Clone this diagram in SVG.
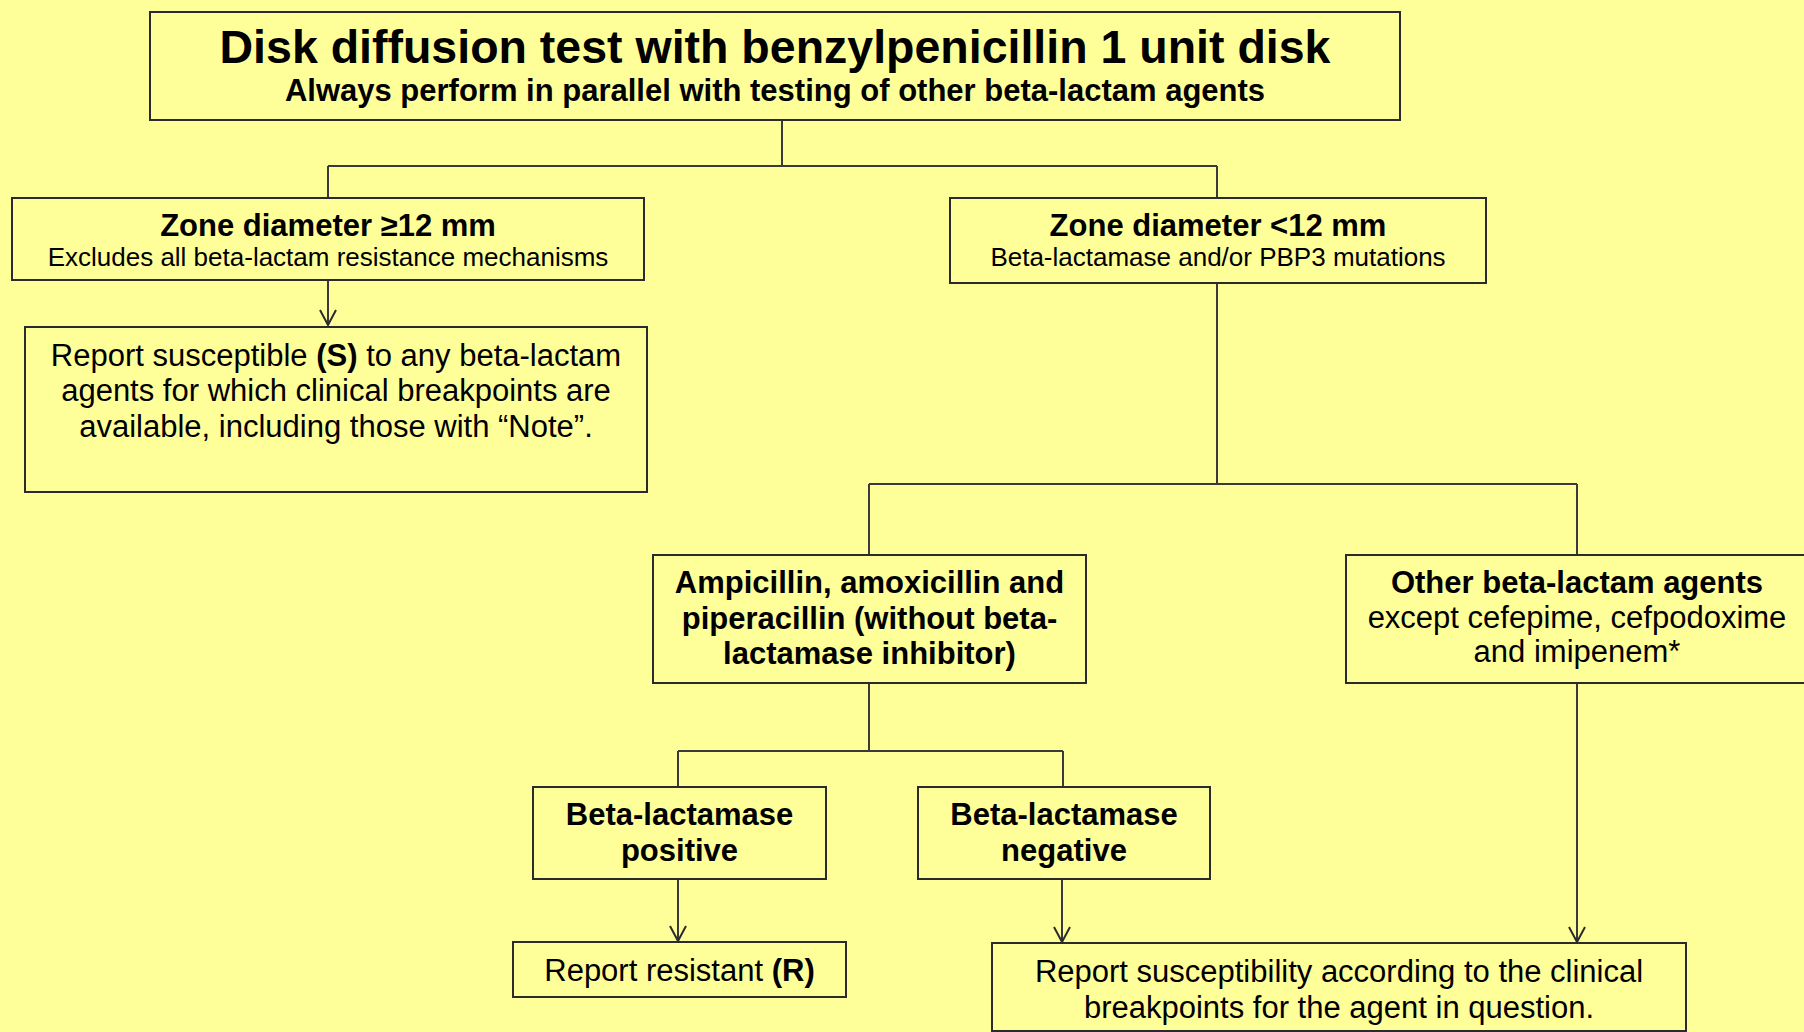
<svg xmlns="http://www.w3.org/2000/svg" width="1804" height="1032" viewBox="0 0 1804 1032">
<style>
text{font-family:"Liberation Sans",Arial,sans-serif;fill:#000;text-anchor:middle}
.box{fill:#FFFF99;stroke:#2b2b2b;stroke-width:2}
.ln{fill:none;stroke:#3a3a3a;stroke-width:2}
.b{font-weight:bold}
.t{font-size:46.5px;font-weight:bold}
.h{font-size:31px;font-weight:bold}
.s{font-size:26px}
.r{font-size:31px}
</style>
<defs>
<marker id="arr" viewBox="0 0 20 20" refX="18" refY="10" markerWidth="20" markerHeight="20" markerUnits="userSpaceOnUse" orient="auto">
<path d="M3,2 L18,10 L3,18" fill="none" stroke="#2b2b2b" stroke-width="2"/>
</marker>
</defs>
<rect width="1804" height="1032" fill="#FFFF99"/>
<g id="connectors">
<path class="ln" d="M782,120 V166 M328,166 H1217 M328,166 V198 M1217,166 V198"/>
<path class="ln" d="M328,280 V325" marker-end="url(#arr)"/>
<path class="ln" d="M1217,283 V484 M869,484 H1577 M869,484 V555 M1577,484 V555"/>
<path class="ln" d="M869,683 V751 M678,751 H1063 M678,751 V787 M1063,751 V787"/>
<path class="ln" d="M678,879 V941" marker-end="url(#arr)"/>
<path class="ln" d="M1062,879 V942" marker-end="url(#arr)"/>
<path class="ln" d="M1577,683 V942" marker-end="url(#arr)"/>
</g>
<g id="n-top">
<rect class="box" x="150" y="12" width="1250" height="108"/>
<text class="t" x="775" y="63">Disk diffusion test with benzylpenicillin 1 unit disk</text>
<text class="h" x="775" y="101">Always perform in parallel with testing of other beta-lactam agents</text>
</g>
<g id="n-zone-ge12">
<rect class="box" x="12" y="198" width="632" height="82"/>
<text class="h" x="328" y="236">Zone diameter ≥12 mm</text>
<text class="s" x="328" y="266">Excludes all beta-lactam resistance mechanisms</text>
</g>
<g id="n-report-s">
<rect class="box" x="25" y="327" width="622" height="165"/>
<text class="r" x="336" y="366">Report susceptible <tspan class="b">(S)</tspan> to any beta-lactam</text>
<text class="r" x="336" y="401">agents for which clinical breakpoints are</text>
<text class="r" x="336" y="437">available, including those with “Note”.</text>
</g>
<g id="n-zone-lt12">
<rect class="box" x="950" y="198" width="536" height="85"/>
<text class="h" x="1218" y="236">Zone diameter &lt;12 mm</text>
<text class="s" x="1218" y="266">Beta-lactamase and/or PBP3 mutations</text>
</g>
<g id="n-ampicillin">
<rect class="box" x="653" y="555" width="433" height="128"/>
<text class="h" x="869.5" y="593">Ampicillin, amoxicillin and</text>
<text class="h" x="869.5" y="629">piperacillin (without beta-</text>
<text class="h" x="869.5" y="664">lactamase inhibitor)</text>
</g>
<g id="n-other">
<rect class="box" x="1346" y="555" width="470" height="128"/>
<text class="h" x="1577" y="593">Other beta-lactam agents</text>
<text class="r" x="1577" y="628">except cefepime, cefpodoxime</text>
<text class="r" x="1577" y="662">and imipenem*</text>
</g>
<g id="n-bl-pos">
<rect class="box" x="533" y="787" width="293" height="92"/>
<text class="h" x="679.5" y="825">Beta-lactamase</text>
<text class="h" x="679.5" y="861">positive</text>
</g>
<g id="n-bl-neg">
<rect class="box" x="918" y="787" width="292" height="92"/>
<text class="h" x="1064" y="825">Beta-lactamase</text>
<text class="h" x="1064" y="861">negative</text>
</g>
<g id="n-report-r">
<rect class="box" x="513" y="942" width="333" height="55"/>
<text class="r" x="679.5" y="981">Report resistant <tspan class="b">(R)</tspan></text>
</g>
<g id="n-report-susc">
<rect class="box" x="992" y="943" width="694" height="88"/>
<text class="r" x="1339" y="982">Report susceptibility according to the clinical</text>
<text class="r" x="1339" y="1018">breakpoints for the agent in question.</text>
</g>
</svg>
